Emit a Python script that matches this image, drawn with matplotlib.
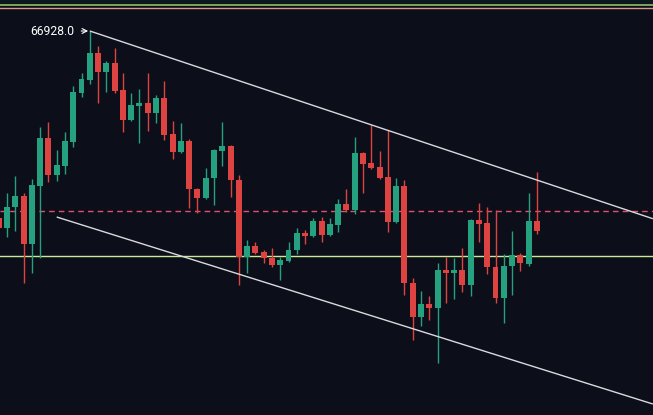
import numpy as np
from matplotlib import pyplot as plt

# candle OHLC (leftmost candle is cut by the frame)
opens = [63188, 62988, 63408, 63628, 62668, 63828, 64788, 64048, 64228, 64708,
         65688, 65948, 66488, 66108, 66288, 65748, 65148, 65428, 65488, 65288,
         65588, 64868, 64508, 64728, 63768, 63588, 63988, 64528, 64628, 63948,
         62408, 62628, 62508, 62388, 62248, 62328, 62548, 62888, 62828, 63128,
         62848, 63048, 63468, 63348, 64488, 64288, 64208, 64008, 63108, 63828,
         61888, 61208, 61468, 61388, 62148, 62088, 62148, 61848, 63148, 63088,
         62208, 61588, 62228, 62448, 62268, 63128]
highs = [63268, 63688, 64028, 63688, 63968, 65008, 65108, 64548, 64908, 65828,
         66088, 66928, 66628, 66328, 66588, 66088, 65688, 65768, 66088, 65648,
         65928, 65128, 65088, 64768, 63788, 64188, 64568, 65108, 64648, 64048,
         62748, 62708, 62548, 62588, 62408, 62708, 62988, 62948, 63188, 63208,
         63188, 63568, 63768, 64808, 64508, 65048, 64528, 64948, 63988, 63948,
         61988, 61728, 61628, 62288, 62408, 62388, 62588, 63168, 63488, 63408,
         63348, 62468, 62928, 62488, 63688, 64108]
lows = [62908, 62808, 62928, 61888, 62088, 62388, 63908, 63928, 64068, 64608,
        65608, 65868, 65488, 65708, 65688, 64908, 65128, 64688, 64928, 65088,
        64748, 64368, 64488, 63388, 63288, 63568, 63448, 64228, 63608, 61848,
        62088, 62468, 62288, 62208, 61948, 62308, 62468, 62668, 62808, 62708,
        62828, 62908, 63308, 63268, 63688, 64168, 63968, 62908, 63088, 61648,
        60748, 61028, 61148, 60288, 61488, 61568, 61708, 61628, 62708, 62068,
        61488, 61088, 61648, 62128, 62228, 62868]
closes = [62988, 63408, 63628, 62668, 63848, 64788, 64048, 64248, 64728, 65708,
          65968, 66488, 66108, 66288, 65728, 65148, 65448, 65488, 65288, 65588,
          64848, 64508, 64728, 63768, 63588, 63988, 64548, 64628, 63948, 62408,
          62628, 62488, 62388, 62248, 62348, 62548, 62888, 62828, 63128, 62848,
          63068, 63468, 63348, 64488, 64268, 64188, 63988, 63108, 63828, 61888,
          61208, 61468, 61388, 62148, 62088, 62148, 61848, 63148, 63068, 62208,
          61588, 62228, 62448, 62288, 63128, 62928]

high_label = 66928.0
high_idx = 11

# channel lines as (candle index, price) anchor pairs
upper_line = [(11, 66928), (79, 63174)]
lower_line = [(7, 63208), (79, 59468)]

dashed_level = 63328
support_level = 62428
top_levels = [67448, 67398]

BG = "#0c0f19"
UP = "#26a17f"
DOWN = "#dd4340"

fig = plt.figure(figsize=(6.53, 4.15), dpi=100)
fig.patch.set_facecolor(BG)
ax = fig.add_axes([0, 0, 1, 1])
ax.set_facecolor(BG)

ax.set_xlim(0.155, 79.02)
ax.set_ylim(59248, 67548)
ax.axis("off")

ax.axhspan(67468, 67548, color="#0b1820", lw=0, zorder=0)
ax.axhline(top_levels[0], color="#8fbf6a", lw=1.2, zorder=1)
ax.axhline(top_levels[1], color="#d89a8c", lw=1.0, zorder=1)

ax.axhline(dashed_level, color="#e2506e", lw=1.0, dashes=(4, 3), zorder=1)
ax.axhline(support_level, color="#c8eb98", lw=1.0, zorder=1)

x = np.arange(len(opens))
o, h, l, c = map(np.array, (opens, highs, lows, closes))
colors = np.where(c >= o, UP, DOWN)

ax.vlines(x, l, h, colors=colors, lw=1.0, zorder=2)
body_low = np.minimum(o, c)
body_h = np.maximum(np.abs(c - o), 25)
ax.bar(x, body_h, bottom=body_low, width=0.72, color=colors, lw=0, zorder=3)

for line in (upper_line, lower_line):
    (x0, y0), (x1, y1) = line
    ax.plot([x0, x1], [y0, y1], color="#d9d9de", lw=1.0, zorder=4, solid_capstyle="butt")

ax.annotate(f"{high_label:.1f}", xy=(high_idx - 0.2, highs[high_idx]),
            xytext=(-10, 0), textcoords="offset points",
            ha="right", va="center", color="white", fontsize=8.7,
            family=["Roboto", "DejaVu Sans"],
            arrowprops=dict(arrowstyle="->", color="white", lw=0.8,
                            shrinkA=3, shrinkB=0))

fig.savefig("out.png", dpi=100, facecolor=BG)
